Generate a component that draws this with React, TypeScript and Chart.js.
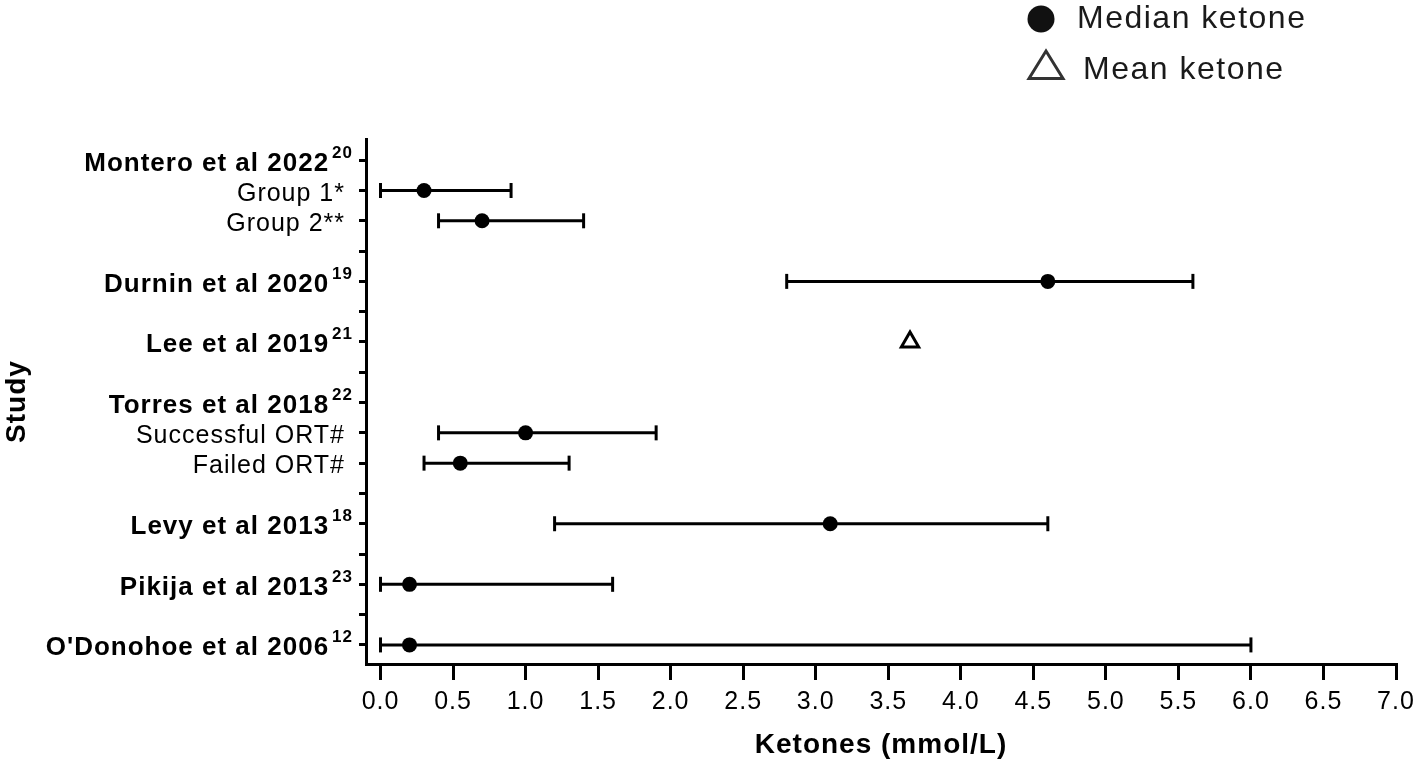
import { useEffect, useRef } from "react";
import { Chart, registerables } from "chart.js";

Chart.register(...registerables);

// ---------- data ----------
const rowLabels = [
  "Montero et al 2022",
  "Group 1*",
  "Group 2**",
  "",
  "Durnin et al 2020",
  "",
  "Lee et al 2019",
  "",
  "Torres et al 2018",
  "Successful ORT#",
  "Failed ORT#",
  "",
  "Levy et al 2013",
  "",
  "Pikija et al 2013",
  "",
  "O'Donohoe et al 2006",
];
const rowRefs = ["20", "", "", "", "19", "", "21", "", "22", "", "", "", "18", "", "23", "", "12"];
const rowIsStudy = [true, false, false, false, true, false, true, false, true, false, false, false, true, false, true, false, true];

const medianRows = [1, 2, 4, 9, 10, 12, 14, 16];
const medianValues = [0.3, 0.7, 4.6, 1.0, 0.55, 3.1, 0.2, 0.2];
const rangeLow = [0, 0.4, 2.8, 0.4, 0.3, 1.2, 0, 0];
const rangeHigh = [0.9, 1.4, 5.6, 1.9, 1.3, 4.6, 1.6, 6.0];

const meanRows = [6];
const meanValues = [3.65];

const xTickValues = [0, 0.5, 1, 1.5, 2, 2.5, 3, 3.5, 4, 4.5, 5, 5.5, 6, 6.5, 7];
const legendLabels = ["Median ketone", "Mean ketone"];
const xTitle = "Ketones (mmol/L)";
const yTitle = "Study";

const FONT = "'Liberation Sans', Arial, Helvetica, sans-serif";

export default function App() {
  const canvasRef = useRef<HTMLCanvasElement>(null);

  useEffect(() => {
    const canvas = canvasRef.current;
    if (!canvas) return;

    const whiskers = medianRows.map((r, i) => ({
      type: "scatter" as const,
      data: [
        { x: rangeLow[i], y: r },
        { x: rangeHigh[i], y: r },
      ],
      showLine: true,
      borderColor: "#000",
      borderWidth: 3,
      pointRadius: 0,
      clip: false as const,
    }));

    const capData = medianRows
      .map((r, i) => ({ x: rangeLow[i], y: r }))
      .concat(medianRows.map((r, i) => ({ x: rangeHigh[i], y: r })));

    const textPlugin = {
      id: "customText",
      beforeDraw(chart: any) {
        (chart.ctx as any).letterSpacing = "1px";
      },
      afterDraw(chart: any) {
        const ctx = chart.ctx as CanvasRenderingContext2D & { letterSpacing: string };
        const area = chart.chartArea;
        const ys = chart.scales.y;
        ctx.save();
        ctx.fillStyle = "#000";
        ctx.textBaseline = "alphabetic";
        ctx.textAlign = "right";
        rowLabels.forEach((label, i) => {
          if (!label) return;
          const py = ys.getPixelForValue(i);
          const ref = rowRefs[i];
          let right = area.left - 22;
          if (ref) {
            ctx.font = `bold 17px ${FONT}`;
            ctx.letterSpacing = "1px";
            const supRight = area.left - 14;
            ctx.fillText(ref, supRight + 1, py - 2.5);
            const w = ctx.measureText(ref).width;
            right = supRight - w - 3;
          }
          if (rowIsStudy[i]) {
            ctx.font = `bold 26px ${FONT}`;
            ctx.letterSpacing = "1px";
            ctx.fillText(label, right + 1, py + 10.5);
          } else {
            ctx.font = `25px ${FONT}`;
            ctx.letterSpacing = "1px";
            ctx.fillText(label, right + 1, py + 10);
          }
        });

        // legend
        ctx.textAlign = "left";
        ctx.fillStyle = "#111";
        ctx.beginPath();
        ctx.arc(1041, 19, 13.5, 0, Math.PI * 2);
        ctx.fill();
        ctx.beginPath();
        ctx.moveTo(1046, 51);
        ctx.lineTo(1063, 78.5);
        ctx.lineTo(1029, 78.5);
        ctx.closePath();
        ctx.lineWidth = 3;
        ctx.strokeStyle = "#333";
        ctx.stroke();
        ctx.fillStyle = "#1a1a1a";
        ctx.font = `32px ${FONT}`;
        ctx.letterSpacing = "1.5px";
        ctx.fillText(legendLabels[0], 1077, 28);
        ctx.fillText(legendLabels[1], 1083, 79);
        ctx.restore();
      },
    };

    const chart = new Chart(canvas, {
      type: "scatter",
      data: {
        datasets: [
          {
            data: meanRows.map((r, i) => ({ x: meanValues[i], y: r })),
            pointStyle: "triangle",
            pointRadius: 10,
            pointBackgroundColor: "#fff",
            pointBorderColor: "#000",
            pointBorderWidth: 3,
            clip: false,
          },
          {
            data: medianRows.map((r, i) => ({ x: medianValues[i], y: r })),
            pointStyle: "circle",
            pointRadius: 7.5,
            pointBackgroundColor: "#000",
            pointBorderWidth: 0,
            clip: false,
          },
          {
            data: capData,
            pointStyle: "line",
            pointRotation: 90,
            pointRadius: 7.5,
            pointBorderColor: "#000",
            pointBorderWidth: 3,
            clip: false,
          },
          ...whiskers,
        ] as any,
      },
      options: {
        responsive: false,
        animation: false,
        devicePixelRatio: 1,
        events: [],
        layout: { padding: { top: 139, left: 0, right: 0, bottom: 0 } },
        plugins: {
          legend: { display: false },
          tooltip: { enabled: false },
        },
        scales: {
          x: {
            type: "linear",
            min: -0.1,
            max: 7,
            afterBuildTicks: (s: any) => {
              s.ticks = xTickValues.map((v) => ({ value: v }));
            },
            afterFit: (s: any) => {
              s.height = 101;
              s.paddingLeft = 0;
              s.paddingRight = 20;
            },
            grid: {
              display: true,
              drawOnChartArea: false,
              drawTicks: true,
              tickLength: 16,
              lineWidth: 3,
              color: "#000",
            },
            border: { display: true, width: 3, color: "#000" },
            ticks: {
              color: "#000",
              font: { family: FONT, size: 25 },
              padding: 7,
              maxRotation: 0,
              autoSkip: false,
              callback: (v: any) => Number(v).toFixed(1),
            },
            title: {
              display: true,
              text: xTitle,
              color: "#000",
              font: { family: FONT, size: 28, weight: "bold" },
              padding: { top: 0, bottom: 3 },
            },
          },
          y: {
            type: "linear",
            min: -0.7,
            max: 16.63,
            reverse: true,
            afterBuildTicks: (s: any) => {
              s.ticks = rowLabels.map((_, i) => ({ value: i }));
            },
            afterFit: (s: any) => {
              s.width = 366;
            },
            grid: {
              display: true,
              drawOnChartArea: false,
              drawTicks: true,
              tickLength: 7,
              lineWidth: 3,
              color: "#000",
            },
            border: { display: true, width: 3, color: "#000" },
            ticks: { display: false },
            title: {
              display: true,
              text: yTitle,
              color: "#000",
              font: { family: FONT, size: 28, weight: "bold" },
              padding: { top: 0, bottom: 0 },
            },
          },
        },
      } as any,
      plugins: [textPlugin],
    });

    return () => {
      chart.destroy();
    };
  }, []);

  return (
    <div style={{ position: "fixed", left: 0, top: 0, width: 1416, height: 765, background: "#fff" }}>
      <canvas ref={canvasRef} width={1416} height={765} style={{ display: "block" }} />
    </div>
  );
}
